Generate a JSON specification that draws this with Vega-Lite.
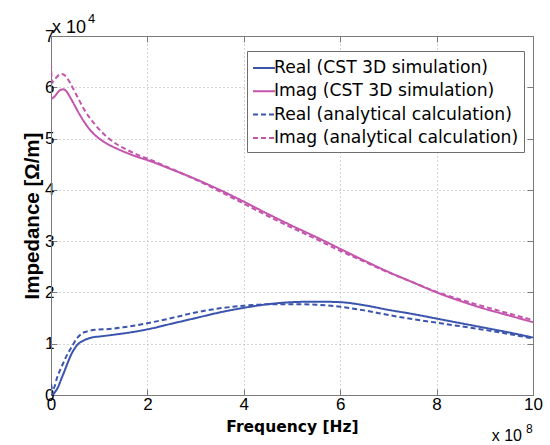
{
  "$schema": "https://vega.github.io/schema/vega-lite/v6.json",
  "width": 482,
  "height": 359,
  "autosize": {"type": "none"},
  "padding": {"left": 51, "top": 36, "right": 17, "bottom": 50},
  "background": "white",
  "config": {
    "font": "Liberation Sans",
    "view": {"stroke": "#7a7a7a", "strokeWidth": 1}
  },
  "datasets": {
    "curves": [
      {"f": 0, "z": 0.0, "series": "Real (CST 3D simulation)"},
      {"f": 0.05, "z": 0.02, "series": "Real (CST 3D simulation)"},
      {"f": 0.1, "z": 0.08, "series": "Real (CST 3D simulation)"},
      {"f": 0.15, "z": 0.16, "series": "Real (CST 3D simulation)"},
      {"f": 0.2, "z": 0.28, "series": "Real (CST 3D simulation)"},
      {"f": 0.29, "z": 0.49, "series": "Real (CST 3D simulation)"},
      {"f": 0.36, "z": 0.66, "series": "Real (CST 3D simulation)"},
      {"f": 0.43, "z": 0.81, "series": "Real (CST 3D simulation)"},
      {"f": 0.5, "z": 0.92, "series": "Real (CST 3D simulation)"},
      {"f": 0.57, "z": 1.0, "series": "Real (CST 3D simulation)"},
      {"f": 0.65, "z": 1.05, "series": "Real (CST 3D simulation)"},
      {"f": 0.77, "z": 1.1, "series": "Real (CST 3D simulation)"},
      {"f": 0.9, "z": 1.13, "series": "Real (CST 3D simulation)"},
      {"f": 1.0, "z": 1.14, "series": "Real (CST 3D simulation)"},
      {"f": 1.26, "z": 1.17, "series": "Real (CST 3D simulation)"},
      {"f": 1.5, "z": 1.2, "series": "Real (CST 3D simulation)"},
      {"f": 2.0, "z": 1.28, "series": "Real (CST 3D simulation)"},
      {"f": 2.5, "z": 1.39, "series": "Real (CST 3D simulation)"},
      {"f": 3.0, "z": 1.5, "series": "Real (CST 3D simulation)"},
      {"f": 3.5, "z": 1.61, "series": "Real (CST 3D simulation)"},
      {"f": 4.0, "z": 1.7, "series": "Real (CST 3D simulation)"},
      {"f": 4.5, "z": 1.77, "series": "Real (CST 3D simulation)"},
      {"f": 5.0, "z": 1.81, "series": "Real (CST 3D simulation)"},
      {"f": 5.5, "z": 1.82, "series": "Real (CST 3D simulation)"},
      {"f": 6.0, "z": 1.81, "series": "Real (CST 3D simulation)"},
      {"f": 6.5, "z": 1.75, "series": "Real (CST 3D simulation)"},
      {"f": 7.0, "z": 1.66, "series": "Real (CST 3D simulation)"},
      {"f": 7.5, "z": 1.58, "series": "Real (CST 3D simulation)"},
      {"f": 8.0, "z": 1.49, "series": "Real (CST 3D simulation)"},
      {"f": 8.5, "z": 1.4, "series": "Real (CST 3D simulation)"},
      {"f": 9.0, "z": 1.31, "series": "Real (CST 3D simulation)"},
      {"f": 9.5, "z": 1.22, "series": "Real (CST 3D simulation)"},
      {"f": 10, "z": 1.12, "series": "Real (CST 3D simulation)"},

      {"f": 0, "z": 5.77, "series": "Imag (CST 3D simulation)"},
      {"f": 0.05, "z": 5.8, "series": "Imag (CST 3D simulation)"},
      {"f": 0.1, "z": 5.85, "series": "Imag (CST 3D simulation)"},
      {"f": 0.15, "z": 5.91, "series": "Imag (CST 3D simulation)"},
      {"f": 0.2, "z": 5.95, "series": "Imag (CST 3D simulation)"},
      {"f": 0.26, "z": 5.96, "series": "Imag (CST 3D simulation)"},
      {"f": 0.32, "z": 5.92, "series": "Imag (CST 3D simulation)"},
      {"f": 0.4, "z": 5.8, "series": "Imag (CST 3D simulation)"},
      {"f": 0.5, "z": 5.63, "series": "Imag (CST 3D simulation)"},
      {"f": 0.6, "z": 5.46, "series": "Imag (CST 3D simulation)"},
      {"f": 0.7, "z": 5.31, "series": "Imag (CST 3D simulation)"},
      {"f": 0.8, "z": 5.18, "series": "Imag (CST 3D simulation)"},
      {"f": 0.9, "z": 5.08, "series": "Imag (CST 3D simulation)"},
      {"f": 1.0, "z": 5.0, "series": "Imag (CST 3D simulation)"},
      {"f": 1.2, "z": 4.88, "series": "Imag (CST 3D simulation)"},
      {"f": 1.4, "z": 4.79, "series": "Imag (CST 3D simulation)"},
      {"f": 1.6, "z": 4.71, "series": "Imag (CST 3D simulation)"},
      {"f": 1.8, "z": 4.64, "series": "Imag (CST 3D simulation)"},
      {"f": 2.0, "z": 4.58, "series": "Imag (CST 3D simulation)"},
      {"f": 2.5, "z": 4.4, "series": "Imag (CST 3D simulation)"},
      {"f": 3.0, "z": 4.21, "series": "Imag (CST 3D simulation)"},
      {"f": 3.5, "z": 4.0, "series": "Imag (CST 3D simulation)"},
      {"f": 4.0, "z": 3.77, "series": "Imag (CST 3D simulation)"},
      {"f": 4.5, "z": 3.53, "series": "Imag (CST 3D simulation)"},
      {"f": 5.0, "z": 3.3, "series": "Imag (CST 3D simulation)"},
      {"f": 5.5, "z": 3.08, "series": "Imag (CST 3D simulation)"},
      {"f": 6.0, "z": 2.85, "series": "Imag (CST 3D simulation)"},
      {"f": 6.5, "z": 2.62, "series": "Imag (CST 3D simulation)"},
      {"f": 7.0, "z": 2.4, "series": "Imag (CST 3D simulation)"},
      {"f": 7.5, "z": 2.2, "series": "Imag (CST 3D simulation)"},
      {"f": 8.0, "z": 2.0, "series": "Imag (CST 3D simulation)"},
      {"f": 8.5, "z": 1.83, "series": "Imag (CST 3D simulation)"},
      {"f": 9.0, "z": 1.68, "series": "Imag (CST 3D simulation)"},
      {"f": 9.5, "z": 1.55, "series": "Imag (CST 3D simulation)"},
      {"f": 10, "z": 1.42, "series": "Imag (CST 3D simulation)"},

      {"f": 0, "z": 0.22, "series": "Real (analytical calculation)"},
      {"f": 0.03, "z": 0.1, "series": "Real (analytical calculation)"},
      {"f": 0.08, "z": 0.18, "series": "Real (analytical calculation)"},
      {"f": 0.12, "z": 0.32, "series": "Real (analytical calculation)"},
      {"f": 0.22, "z": 0.55, "series": "Real (analytical calculation)"},
      {"f": 0.3, "z": 0.72, "series": "Real (analytical calculation)"},
      {"f": 0.43, "z": 0.94, "series": "Real (analytical calculation)"},
      {"f": 0.55, "z": 1.12, "series": "Real (analytical calculation)"},
      {"f": 0.64, "z": 1.2, "series": "Real (analytical calculation)"},
      {"f": 0.75, "z": 1.24, "series": "Real (analytical calculation)"},
      {"f": 0.91, "z": 1.27, "series": "Real (analytical calculation)"},
      {"f": 1.26, "z": 1.29, "series": "Real (analytical calculation)"},
      {"f": 1.5, "z": 1.32, "series": "Real (analytical calculation)"},
      {"f": 2.0, "z": 1.4, "series": "Real (analytical calculation)"},
      {"f": 2.5, "z": 1.5, "series": "Real (analytical calculation)"},
      {"f": 3.0, "z": 1.61, "series": "Real (analytical calculation)"},
      {"f": 3.5, "z": 1.69, "series": "Real (analytical calculation)"},
      {"f": 4.0, "z": 1.74, "series": "Real (analytical calculation)"},
      {"f": 4.5, "z": 1.77, "series": "Real (analytical calculation)"},
      {"f": 5.0, "z": 1.77, "series": "Real (analytical calculation)"},
      {"f": 5.5, "z": 1.76, "series": "Real (analytical calculation)"},
      {"f": 6.0, "z": 1.72, "series": "Real (analytical calculation)"},
      {"f": 6.5, "z": 1.65, "series": "Real (analytical calculation)"},
      {"f": 7.0, "z": 1.56, "series": "Real (analytical calculation)"},
      {"f": 7.5, "z": 1.48, "series": "Real (analytical calculation)"},
      {"f": 8.0, "z": 1.41, "series": "Real (analytical calculation)"},
      {"f": 8.5, "z": 1.34, "series": "Real (analytical calculation)"},
      {"f": 9.0, "z": 1.27, "series": "Real (analytical calculation)"},
      {"f": 9.5, "z": 1.19, "series": "Real (analytical calculation)"},
      {"f": 10, "z": 1.1, "series": "Real (analytical calculation)"},

      {"f": 0, "z": 6.47, "series": "Imag (analytical calculation)"},
      {"f": 0.02, "z": 6.1, "series": "Imag (analytical calculation)"},
      {"f": 0.06, "z": 6.14, "series": "Imag (analytical calculation)"},
      {"f": 0.12, "z": 6.2, "series": "Imag (analytical calculation)"},
      {"f": 0.18, "z": 6.25, "series": "Imag (analytical calculation)"},
      {"f": 0.23, "z": 6.26, "series": "Imag (analytical calculation)"},
      {"f": 0.3, "z": 6.22, "series": "Imag (analytical calculation)"},
      {"f": 0.4, "z": 6.08, "series": "Imag (analytical calculation)"},
      {"f": 0.5, "z": 5.9, "series": "Imag (analytical calculation)"},
      {"f": 0.6, "z": 5.72, "series": "Imag (analytical calculation)"},
      {"f": 0.7, "z": 5.55, "series": "Imag (analytical calculation)"},
      {"f": 0.8, "z": 5.41, "series": "Imag (analytical calculation)"},
      {"f": 0.9, "z": 5.29, "series": "Imag (analytical calculation)"},
      {"f": 1.0, "z": 5.18, "series": "Imag (analytical calculation)"},
      {"f": 1.2, "z": 5.0, "series": "Imag (analytical calculation)"},
      {"f": 1.4, "z": 4.87, "series": "Imag (analytical calculation)"},
      {"f": 1.6, "z": 4.77, "series": "Imag (analytical calculation)"},
      {"f": 1.8, "z": 4.68, "series": "Imag (analytical calculation)"},
      {"f": 2.0, "z": 4.61, "series": "Imag (analytical calculation)"},
      {"f": 2.5, "z": 4.41, "series": "Imag (analytical calculation)"},
      {"f": 3.0, "z": 4.2, "series": "Imag (analytical calculation)"},
      {"f": 3.5, "z": 3.97, "series": "Imag (analytical calculation)"},
      {"f": 4.0, "z": 3.73, "series": "Imag (analytical calculation)"},
      {"f": 4.5, "z": 3.49, "series": "Imag (analytical calculation)"},
      {"f": 5.0, "z": 3.26, "series": "Imag (analytical calculation)"},
      {"f": 5.5, "z": 3.04, "series": "Imag (analytical calculation)"},
      {"f": 6.0, "z": 2.81, "series": "Imag (analytical calculation)"},
      {"f": 6.5, "z": 2.6, "series": "Imag (analytical calculation)"},
      {"f": 7.0, "z": 2.39, "series": "Imag (analytical calculation)"},
      {"f": 7.5, "z": 2.2, "series": "Imag (analytical calculation)"},
      {"f": 8.0, "z": 2.01, "series": "Imag (analytical calculation)"},
      {"f": 8.5, "z": 1.86, "series": "Imag (analytical calculation)"},
      {"f": 9.0, "z": 1.72, "series": "Imag (analytical calculation)"},
      {"f": 9.5, "z": 1.59, "series": "Imag (analytical calculation)"},
      {"f": 10, "z": 1.46, "series": "Imag (analytical calculation)"}
    ]
  },
  "layer": [
    {
      "data": {"name": "curves"},
      "mark": {"type": "line", "strokeWidth": 2, "interpolate": "monotone", "clip": true},
      "encoding": {
        "x": {
          "field": "f", "type": "quantitative",
          "scale": {"domain": [0, 10], "nice": false, "zero": false},
          "axis": {
            "orient": "bottom", "values": [0, 2, 4, 6, 8, 10], "format": "d",
            "grid": true, "gridDash": [1, 3], "gridColor": "#a8a8a8", "gridWidth": 1,
            "domainColor": "#7a7a7a", "tickColor": "#7a7a7a", "tickSize": -6,
            "labelFontSize": 17, "labelColor": "black", "labelPadding": 7, "labelFlush": false,
            "title": "Frequency [Hz]", "titleFont": "DejaVu Sans", "titleFontSize": 15.5, "titleFontWeight": "bold",
            "titleColor": "black", "titlePadding": 7
          }
        },
        "y": {
          "field": "z", "type": "quantitative",
          "scale": {"domain": [0, 7], "nice": false},
          "axis": {
            "orient": "left", "values": [0, 1, 2, 3, 4, 5, 6, 7], "format": "d",
            "grid": true, "gridDash": [1, 3], "gridColor": "#a8a8a8", "gridWidth": 1,
            "domainColor": "#7a7a7a", "tickColor": "#7a7a7a", "tickSize": -6,
            "labelFontSize": 17, "labelColor": "black", "labelPadding": 3,
            "title": "Impedance [Ω/m]", "titleFontSize": 20.5, "titleFontWeight": "bold",
            "titleColor": "black", "titlePadding": 2
          }
        },
        "color": {
          "field": "series", "type": "nominal",
          "scale": {
            "domain": ["Real (CST 3D simulation)", "Imag (CST 3D simulation)", "Real (analytical calculation)", "Imag (analytical calculation)"],
            "range": ["#3b54ad", "#c455ac", "#3b54ad", "#c455ac"]
          },
          "legend": {
            "title": null, "orient": "none", "legendX": 196, "legendY": 15,
            "symbolType": "stroke", "symbolStrokeWidth": 2, "symbolSize": 484,
            "labelFont": "DejaVu Sans", "labelFontSize": 17.2, "labelColor": "black", "labelLimit": 400, "labelOffset": -2,
            "rowPadding": 2.3, "padding": 5,
            "fillColor": "white", "strokeColor": "#6e6e6e"
          }
        },
        "strokeDash": {
          "field": "series", "type": "nominal",
          "scale": {
            "domain": ["Real (CST 3D simulation)", "Imag (CST 3D simulation)", "Real (analytical calculation)", "Imag (analytical calculation)"],
            "range": [[1, 0], [1, 0], [5, 3], [5, 3]]
          },
          "legend": {
            "title": null, "orient": "none", "legendX": 196, "legendY": 15,
            "symbolType": "stroke", "symbolStrokeWidth": 2, "symbolSize": 484,
            "labelFont": "DejaVu Sans", "labelFontSize": 17.2, "labelColor": "black", "labelLimit": 400, "labelOffset": -2,
            "rowPadding": 2.3, "padding": 5,
            "fillColor": "white", "strokeColor": "#6e6e6e"
          }
        }
      }
    },
    {
      "data": {"name": "curves"},
      "mark": {"type": "point", "opacity": 0},
      "encoding": {
        "x": {
          "field": "f", "type": "quantitative",
          "axis": {"orient": "top", "values": [0, 2, 4, 6, 8, 10], "labels": false, "title": null,
                   "grid": false, "domainColor": "#7a7a7a", "tickColor": "#7a7a7a", "tickSize": -6}
        },
        "y": {
          "field": "z", "type": "quantitative",
          "axis": {"orient": "right", "values": [0, 1, 2, 3, 4, 5, 6, 7], "labels": false, "title": null,
                   "grid": false, "domainColor": "#7a7a7a", "tickColor": "#7a7a7a", "tickSize": -6}
        }
      }
    },
    {
      "data": {"values": [{"note": "x 10"}]},
      "mark": {"type": "text", "align": "left", "baseline": "alphabetic", "dx": 1, "dy": -3, "fontSize": 18, "color": "black"},
      "encoding": {"x": {"datum": 0, "axis": null}, "y": {"datum": 7, "axis": null}, "text": {"field": "note"}}
    },
    {
      "data": {"values": [{"note": "4"}]},
      "mark": {"type": "text", "align": "left", "baseline": "alphabetic", "dx": 37, "dy": -13, "fontSize": 13, "color": "black"},
      "encoding": {"x": {"datum": 0, "axis": null}, "y": {"datum": 7, "axis": null}, "text": {"field": "note"}}
    },
    {
      "data": {"values": [{"note": "x 10"}]},
      "mark": {"type": "text", "align": "right", "baseline": "alphabetic", "dx": -11, "dy": 46, "fontSize": 16, "color": "black"},
      "encoding": {"x": {"datum": 10, "axis": null}, "y": {"datum": 0, "axis": null}, "text": {"field": "note"}}
    },
    {
      "data": {"values": [{"note": "8"}]},
      "mark": {"type": "text", "align": "left", "baseline": "alphabetic", "dx": -7, "dy": 38, "fontSize": 12, "color": "black"},
      "encoding": {"x": {"datum": 10, "axis": null}, "y": {"datum": 0, "axis": null}, "text": {"field": "note"}}
    }
  ],
  "resolve": {"axis": {"x": "independent", "y": "independent"}}
}
